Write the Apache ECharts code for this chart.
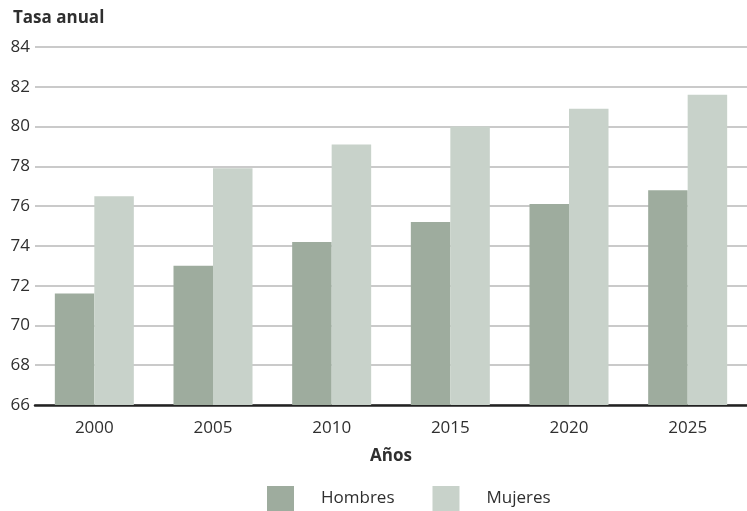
<!DOCTYPE html>
<html>
<head>
<meta charset="utf-8">
<script src="https://cdn.jsdelivr.net/npm/echarts@6/dist/echarts.min.js"></script>
<style>
  html, body { margin: 0; padding: 0; background: #ffffff; }
  #chart { width: 747px; height: 511px; }
</style>
</head>
<body>
<div id="chart"></div>
<script>
// Tasa anual por sexo, 2000–2025
const years = ['2000', '2005', '2010', '2015', '2020', '2025'];
const hombres = [71.6, 73.0, 74.2, 75.2, 76.1, 76.8];
const mujeres = [76.5, 77.9, 79.1, 80.0, 80.9, 81.6];
const seriesNames = ['Hombres', 'Mujeres'];

const FONT = '"Open Sans", "Noto Sans", sans-serif';
const TEXT = '#2f2f2f';
const SIZE = 17;

const chart = echarts.init(document.getElementById('chart'), null, { renderer: 'canvas' });

chart.setOption({
  animation: false,
  textStyle: { fontFamily: FONT },
  title: {
    text: 'Tasa anual',
    left: 8,
    top: 5,
    textStyle: { fontFamily: FONT, fontSize: SIZE, fontWeight: 'bold', color: TEXT }
  },
  grid: { left: 35, right: 0, top: 47, bottom: 106, containLabel: false },
  legend: {
    data: seriesNames,
    top: 481,
    left: 262,
    itemWidth: 27,
    itemHeight: 25,
    itemGap: 38,
    icon: 'rect',
    textStyle: { fontFamily: FONT, fontSize: SIZE, color: TEXT, padding: [0, 0, 0, 22] }
  },
  xAxis: {
    type: 'category',
    data: years,
    name: 'Años',
    nameLocation: 'middle',
    nameGap: 43,
    nameTextStyle: { fontFamily: FONT, fontSize: SIZE, fontWeight: 'bold', color: TEXT },
    axisLine: { lineStyle: { color: '#222222', width: 2.5 } },
    axisTick: { show: false },
    axisLabel: { fontFamily: FONT, fontSize: SIZE, color: TEXT, margin: 15 }
  },
  yAxis: {
    type: 'value',
    min: 66,
    max: 84,
    interval: 2,
    axisLine: { show: false },
    axisTick: { show: false },
    axisLabel: { fontFamily: FONT, fontSize: SIZE, color: TEXT, margin: 5 },
    splitLine: { lineStyle: { color: '#b9b9b9', width: 1.5 } }
  },
  series: [
    {
      name: seriesNames[0],
      type: 'bar',
      data: hombres,
      barWidth: 39.5,
      barGap: '0%',
      itemStyle: { color: '#9eac9e' }
    },
    {
      name: seriesNames[1],
      type: 'bar',
      data: mujeres,
      barWidth: 39.5,
      barGap: '0%',
      itemStyle: { color: '#c8d2ca' }
    }
  ]
});
</script>
</body>
</html>
